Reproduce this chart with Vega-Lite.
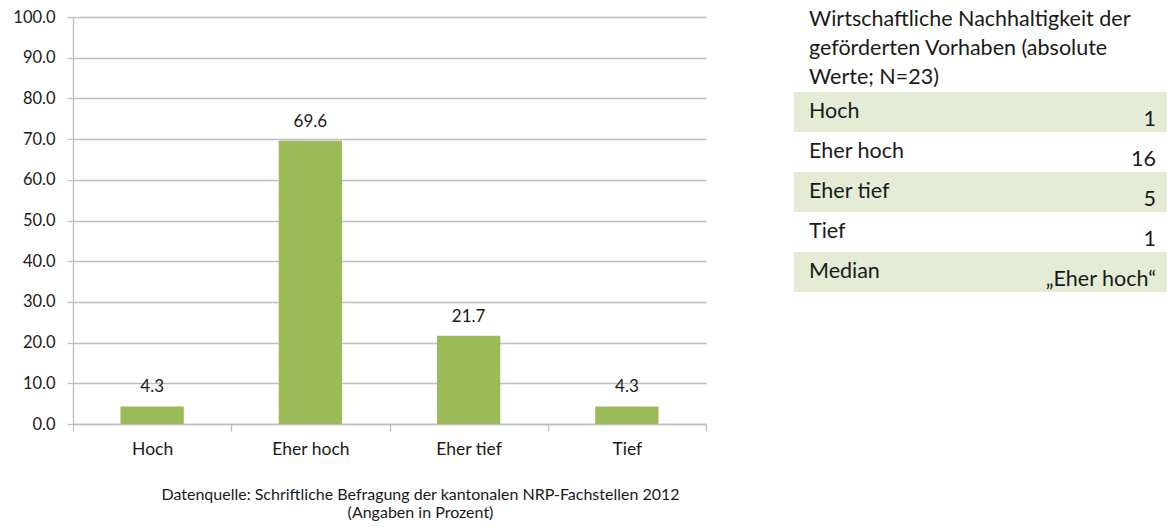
{
  "$schema": "https://vega.github.io/schema/vega-lite/v6.json",
  "padding": {"left": 12, "top": 8, "right": 0, "bottom": 0},
  "background": "white",
  "spacing": 87,
  "config": {
    "view": {"stroke": null},
    "font": "Lato",
    "text": {"font": "Lato", "color": "#1a1a1a"},
    "title": {"font": "Lato"},
    "axis": {"labelFont": "Lato"}
  },
  "hconcat": [
    {
      "width": 633,
      "height": 407,
      "data": {"values": [
        {"Kategorie": "Hoch", "Anteil": 4.3},
        {"Kategorie": "Eher hoch", "Anteil": 69.6},
        {"Kategorie": "Eher tief", "Anteil": 21.7},
        {"Kategorie": "Tief", "Anteil": 4.3}
      ]},
      "title": {
        "text": ["Datenquelle: Schriftliche Befragung der kantonalen NRP-Fachstellen 2012", "(Angaben in Prozent)"],
        "orient": "bottom",
        "anchor": "middle",
        "frame": "group",
        "fontSize": 16,
        "fontWeight": "normal",
        "color": "#1a1a1a",
        "dx": 31,
        "offset": 29,
        "lineHeight": 18
      },
      "encoding": {
        "x": {
          "field": "Kategorie", "type": "nominal", "sort": null,
          "scale": {"paddingInner": 0, "paddingOuter": 0},
          "axis": {
            "title": null, "labelAngle": 0, "labelFontSize": 17.5, "labelColor": "#1a1a1a",
            "domainColor": "#bfbfbf", "domainWidth": 1.3, "tickColor": "#bfbfbf", "tickWidth": 1.3, "tickSize": 7,
            "tickBand": "extent", "labelPadding": 9
          }
        },
        "y": {
          "field": "Anteil", "type": "quantitative",
          "scale": {"domain": [0, 100], "nice": false},
          "axis": {
            "title": null, "values": [0, 10, 20, 30, 40, 50, 60, 70, 80, 90, 100], "format": ".1f",
            "labelFontSize": 16.5, "labelColor": "#1a1a1a", "labelPadding": 12,
            "grid": true, "gridColor": "#bfbfbf", "gridWidth": 1.3,
            "domainColor": "#bfbfbf", "domainWidth": 1.3, "tickColor": "#bfbfbf", "tickWidth": 1.3, "tickSize": 6
          }
        }
      },
      "layer": [
        {"mark": {"type": "bar", "color": "#9bbb59", "width": {"band": 0.4}}},
        {
          "mark": {"type": "text", "dy": -19, "fontSize": 17, "baseline": "middle", "color": "#1a1a1a"},
          "encoding": {"text": {"field": "Anteil", "type": "quantitative", "format": ".1f"}}
        }
      ]
    },
    {
      "width": 374,
      "height": 275,
      "data": {"values": [
        {"Kategorie": "Hoch", "Anzahl": "1", "Zeile": 1},
        {"Kategorie": "Eher hoch", "Anzahl": "16", "Zeile": 2},
        {"Kategorie": "Eher tief", "Anzahl": "5", "Zeile": 3},
        {"Kategorie": "Tief", "Anzahl": "1", "Zeile": 4},
        {"Kategorie": "Median", "Anzahl": "„Eher hoch“", "Zeile": 5}
      ]},
      "title": {
        "text": ["Wirtschaftliche Nachhaltigkeit der", "geförderten Vorhaben (absolute", "Werte; N=23)"],
        "anchor": "start",
        "frame": "group",
        "fontSize": 21.5,
        "fontWeight": "normal",
        "color": "#1a1a1a",
        "lineHeight": 29,
        "dx": 15,
        "baseline": "top",
        "offset": -71
      },
      "encoding": {
        "y": {
          "field": "Kategorie", "type": "nominal", "sort": null,
          "scale": {"paddingInner": 0, "paddingOuter": 0.9375, "align": 1},
          "axis": null
        }
      },
      "layer": [
        {
          "mark": {"type": "rect"},
          "encoding": {
            "x": {"value": 0},
            "x2": {"value": "width"},
            "fill": {"condition": {"test": "datum.Zeile % 2 == 1", "value": "#e4ecd6"}, "value": "#ffffff"}
          }
        },
        {
          "mark": {"type": "text", "align": "left", "baseline": "middle", "dx": 15, "fontSize": 21.5, "color": "#1a1a1a"},
          "encoding": {"x": {"value": 0}, "text": {"field": "Kategorie", "type": "nominal"}}
        },
        {
          "mark": {"type": "text", "align": "right", "baseline": "middle", "dx": -12, "dy": 8, "fontSize": 21.5, "color": "#1a1a1a"},
          "encoding": {"x": {"value": "width"}, "text": {"field": "Anzahl", "type": "nominal"}}
        }
      ]
    }
  ]
}
